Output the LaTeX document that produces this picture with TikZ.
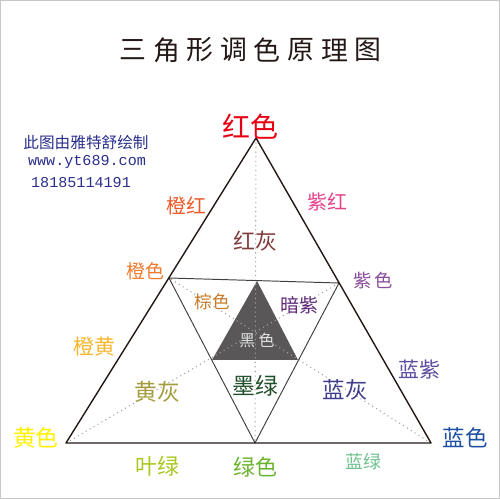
\documentclass[tikz,border=0pt]{standalone}
\usepackage{fontspec}
\newfontfamily\cjk{Noto Sans CJK SC}
\newfontfamily\monofont{Liberation Mono}

% 色の定義
\definecolor{titleblack}{HTML}{231815}
\definecolor{hongse}{HTML}{E60012}
\definecolor{signblue}{HTML}{2A2F8C}
\definecolor{chenghong}{HTML}{EE5A26}
\definecolor{zihong}{HTML}{E4418B}
\definecolor{honghui}{HTML}{843C3C}
\definecolor{chengse}{HTML}{F07A2E}
\definecolor{zise}{HTML}{8A4C9C}
\definecolor{zongse}{HTML}{C97A28}
\definecolor{anzi}{HTML}{5E2A78}
\definecolor{heise}{HTML}{595757}
\definecolor{chenghuang}{HTML}{F8B62D}
\definecolor{huanghui}{HTML}{A59D3D}
\definecolor{molv}{HTML}{1E4F2A}
\definecolor{lanhui}{HTML}{3F3D8C}
\definecolor{lanzi}{HTML}{5E4DA0}
\definecolor{huangse}{HTML}{FFF000}
\definecolor{lanse}{HTML}{1D50A2}
\definecolor{yelv}{HTML}{A8C81E}
\definecolor{lvse}{HTML}{6AB42D}
\definecolor{lanlv}{HTML}{6CC18E}

\begin{document}
\begin{tikzpicture}[x=0.02cm, y=-0.02cm, line join=round,
    lbl/.style={font=\cjk\fontsize{#1}{#1}\selectfont, inner sep=0pt}]
    \useasboundingbox (0,0) rectangle (500,499);

    % 外枠
    \draw[gray!45, line width=0.8pt] (0.7,0.7) rectangle (499.3,498.3);

    % タイトル (一文字ずつ配置)
    \foreach \c [count=\i] in {三,角,形,调,色,原,理,图} {
        \node[lbl=15.3pt, text=titleblack] (t\i) at ({133+(\i-1)*33.6},50) {\c};
    }

    % 頂点と中点
    \coordinate (R) at (256,138);
    \coordinate (Y) at (66,443);
    \coordinate (B) at (431,443);
    \coordinate (O) at (169,278);
    \coordinate (P) at (339,283);
    \coordinate (G) at (255,443);

    % 中央の黒い三角形
    \coordinate (K1) at (257,281);
    \coordinate (K2) at (212,360);
    \coordinate (K3) at (298,360);
    \fill[heise] (K1) -- (K2) -- (K3) -- cycle;

    % 中線 (点線)
    \draw[gray!75, dotted, line width=0.6pt] (R) -- (G);
    \draw[gray!75, dotted, line width=0.6pt] (Y) -- (P);
    \draw[gray!75, dotted, line width=0.6pt] (B) -- (O);

    % 内側の逆三角形
    \draw[black!75, line width=0.55pt] (O) -- (P) -- (G) -- cycle;

    % 外側の三角形
    \draw[titleblack, line width=0.8pt] (R) -- (Y) -- (B) -- cycle;

    % -------------------------------------------------------------
    % 署名
    % -------------------------------------------------------------
    \node[lbl=8.9pt, text=signblue] (sign) at (86,143) {此图由雅特舒绘制};
    \node[font=\monofont\fontsize{8.6pt}{8.6pt}\selectfont, inner sep=0pt, text=signblue] (web) at (87,162) {www.yt689.com};
    \node[font=\monofont\fontsize{8.6pt}{8.6pt}\selectfont, inner sep=0pt, text=signblue] (tel) at (81,183) {18185114191};

    % -------------------------------------------------------------
    % 色名
    % -------------------------------------------------------------
    \node[lbl=15.9pt, text=hongse] (hong) at (250,127) {红色};
    \node[lbl=13pt, text=huangse] (huang) at (36,438) {黄色};
    \node[lbl=12.8pt, text=lanse] (lan) at (465,438) {蓝色};

    \node[lbl=11.3pt, text=chenghong] (chhong) at (186,206) {橙红};
    \node[lbl=11.3pt, text=zihong] (zhong) at (327,202) {紫红};
    \node[lbl=12.5pt, text=honghui] (hhui) at (255,241) {红灰};
    \node[lbl=10.8pt, text=chengse] (cheng) at (145,271) {橙色};
    \node[lbl=10.4pt, text=zise] (zi) at (373,281) {紫\hspace{1.5pt}色};
    \node[lbl=10pt, text=zongse] (zong) at (212,302) {棕色};
    \node[lbl=10.8pt, text=anzi] (azi) at (299,305) {暗紫};
    \node[lbl=9.1pt, text=gray!25] (hei) at (257,340) {黑\hspace{2pt}色};
    \node[lbl=11.9pt, text=chenghuang] (chhuang) at (94,347) {橙黄};
    \node[lbl=13pt, text=huanghui] (hhuang) at (157,392) {黄灰};
    \node[lbl=13pt, text=molv] (mo) at (255,386) {墨绿};
    \node[lbl=12.8pt, text=lanhui] (lhui) at (345,390) {蓝灰};
    \node[lbl=11.9pt, text=lanzi] (lzi) at (419,370) {蓝紫};
    \node[lbl=12.5pt, text=yelv] (ye) at (157,466) {叶绿};
    \node[lbl=12.5pt, text=lvse] (lv) at (255,467) {绿色};
    \node[lbl=10.2pt, text=lanlv] (llv) at (363,462) {蓝绿};

\end{tikzpicture}
\end{document}
